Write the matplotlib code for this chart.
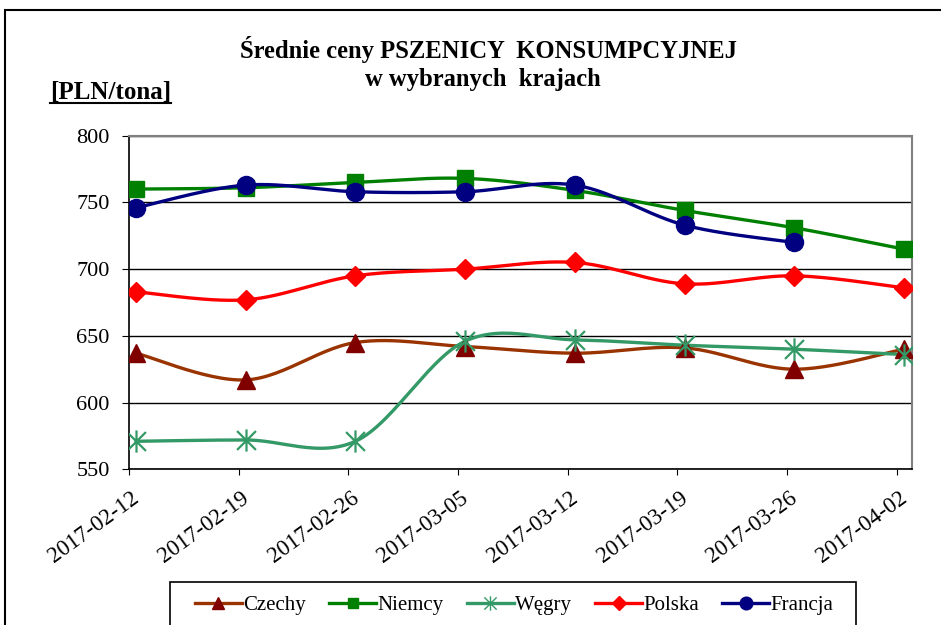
import numpy as np
import matplotlib
matplotlib.use("Agg")
import matplotlib.pyplot as plt
from matplotlib.path import Path
from matplotlib.patches import Rectangle
from matplotlib.lines import Line2D
from matplotlib.transforms import ScaledTranslation

dates = ["2017-02-12", "2017-02-19", "2017-02-26", "2017-03-05",
         "2017-03-12", "2017-03-19", "2017-03-26", "2017-04-02"]
czechy = [637, 617, 645, 642, 637, 641, 625, 640]
niemcy = [760, 761, 765, 768, 759, 744, 731, 715]
wegry = [571, 572, 571, 646, 647, 643, 640, 636]
polska = [683, 677, 695, 700, 705, 689, 695, 686]
francja = [746, 763, 758, 758, 763, 733, 720, np.nan]

plt.rcParams['font.family'] = ['Liberation Serif', 'DejaVu Serif']


def smooth(x, y, n=30):
    # excel-like smoothed line (bezier through points)
    x = np.asarray(x, float)
    y = np.asarray(y, float)
    ok = ~np.isnan(y)
    x, y = x[ok], y[ok]
    xs, ys = [], []
    for i in range(len(x) - 1):
        i0 = max(i - 1, 0)
        i3 = min(i + 2, len(x) - 1)
        p1 = np.array([x[i], y[i]])
        p2 = np.array([x[i + 1], y[i + 1]])
        c1 = p1 + (p2 - np.array([x[i0], y[i0]])) / 6
        c2 = p2 - (np.array([x[i3], y[i3]]) - p1) / 6
        t = np.linspace(0, 1, n)[:, None]
        b = ((1 - t) ** 3) * p1 + 3 * ((1 - t) ** 2) * t * c1 + 3 * (1 - t) * t ** 2 * c2 + t ** 3 * p2
        xs.append(b[:, 0])
        ys.append(b[:, 1])
    return np.concatenate(xs), np.concatenate(ys)


# asterisk marker: vertical bar plus X
star = Path([(0, -1), (0, 1), (-0.85, -0.85), (0.85, 0.85), (-0.85, 0.85), (0.85, -0.85)],
            [Path.MOVETO, Path.LINETO, Path.MOVETO, Path.LINETO, Path.MOVETO, Path.LINETO])

series = [
    ("Czechy", czechy, "#993300", "^", "#800000", 13),
    ("Niemcy", niemcy, "#008000", "s", "#008000", 11),
    ("Węgry", wegry, "#339966", star, "#339966", 16),
    ("Polska", polska, "#FF0000", "D", "#FF0000", 10),
    ("Francja", francja, "#000080", "o", "#000080", 13),
]

fig = plt.figure(figsize=(9.41, 6.25), dpi=100)
ax = fig.add_axes([0.1371, 0.2491, 0.8321, 0.5338])

x = np.arange(len(dates))
handles = []
for name, vals, lc, mk, mc, ms in series:
    sx, sy = smooth(x, vals)
    ax.plot(sx, sy, color=lc, lw=2.4, zorder=3)
    if mk is star:
        ax.plot(x, vals, ls='none', marker=mk, ms=ms, mec=mc, mfc='none', mew=1.6, zorder=4)
        h = Line2D([], [], color=lc, lw=2.4, marker=mk, ms=ms * 0.65, mec=mc, mfc='none', mew=1.0)
    else:
        ax.plot(x, vals, ls='none', marker=mk, ms=ms, mec=mc, mfc=mc, zorder=4)
        h = Line2D([], [], color=lc, lw=2.4, marker=mk, ms=ms * 0.7, mec=mc, mfc=mc)
    handles.append(h)

off = -0.064
ax.set_xlim(off, 7.074)
ax.set_ylim(550, 800)
ax.set_yticks([550, 600, 650, 700, 750, 800])
ax.set_xticks(x + off)
ax.set_xticklabels(dates, rotation=36, ha='right', va='center', rotation_mode='anchor', fontsize=16.5)
ax.tick_params(axis='y', labelsize=16, length=5, direction='out', color='black', pad=9)
ax.tick_params(axis='x', length=4, direction='out', color='black', pad=15)
shift = ScaledTranslation(8 / 100, 0, fig.dpi_scale_trans)
for lab in ax.get_xticklabels():
    lab.set_transform(lab.get_transform() + shift)
ax.yaxis.grid(True, color='black', lw=1)
ax.set_axisbelow(True)
for s in ['top', 'right']:
    ax.spines[s].set_color('#808080')
    ax.spines[s].set_linewidth(1.5)
for s in ['left', 'bottom']:
    ax.spines[s].set_color('black')
    ax.spines[s].set_linewidth(1.2)

fig.text(0.5189, 0.9067, "Średnie ceny PSZENICY  KONSUMPCYJNEJ", ha='center', va='baseline',
         fontsize=17.7, fontweight='bold')
fig.text(0.5128, 0.8624, "w wybranych  krajach", ha='center', va='baseline',
         fontsize=17.7, fontweight='bold')
fig.text(0.053, 0.8416, "[PLN/tona]", ha='left', va='baseline', fontsize=18, fontweight='bold')
# underline
fig.add_artist(Line2D([0.053, 0.182], [0.8345, 0.8345], color='black', lw=1.5))

leg = fig.legend(handles, [s[0] for s in series], loc='center left',
                 bbox_to_anchor=(195 / 941, 20 / 625), ncol=5, fontsize=15,
                 frameon=False, borderpad=0, handlelength=2.25, handletextpad=0.06,
                 columnspacing=1.12, borderaxespad=0)

# legend box (cut by the bottom of the image)
fig.add_artist(Rectangle((170 / 941, -0.05), 686 / 941, 0.05 + 43 / 625,
                         transform=fig.transFigure, fill=False, ec='black', lw=1.2))
# outer chart frame
fig.add_artist(Rectangle((5 / 941, -0.1), 1.2, 0.1 + 615 / 625,
                         transform=fig.transFigure, fill=False, ec='black', lw=1.5))

fig.savefig("out.png", dpi=100)
